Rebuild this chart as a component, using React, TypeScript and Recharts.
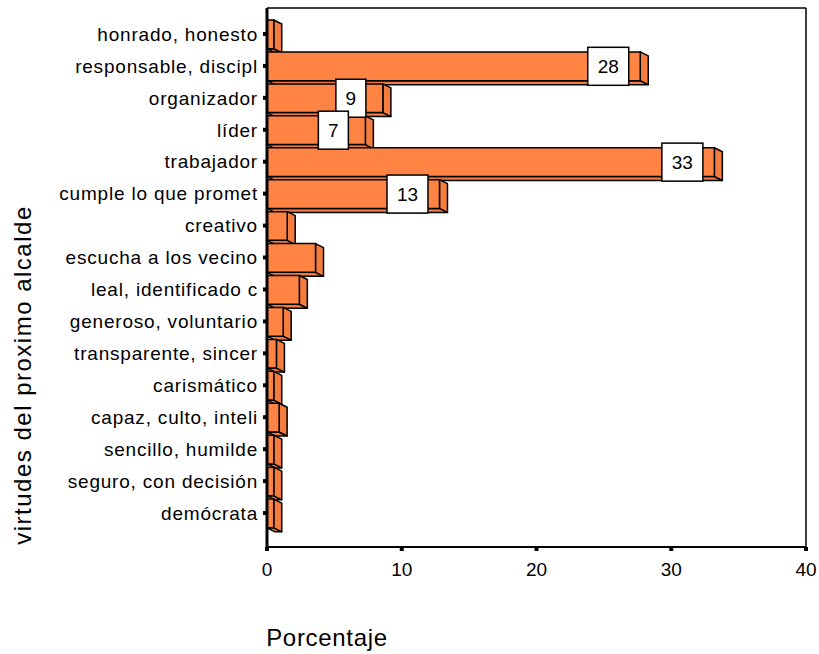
import { BarChart, Bar, XAxis, YAxis, LabelList, CartesianGrid } from "recharts";

const categories = [
  "honrado, honesto",
  "responsable, discipl",
  "organizador",
  "líder",
  "trabajador",
  "cumple lo que promet",
  "creativo",
  "escucha a los vecino",
  "leal, identificado c",
  "generoso, voluntario",
  "transparente, sincer",
  "carismático",
  "capaz, culto, inteli",
  "sencillo, humilde",
  "seguro, con decisión",
  "demócrata",
];

const percentages = [0.5, 27.7, 8.6, 7.3, 33.2, 12.8, 1.5, 3.6, 2.4, 1.2, 0.7, 0.5, 0.9, 0.5, 0.5, 0.5];

const xTicks = [0, 10, 20, 30, 40];

const data = categories.map((name, i) => ({ name, value: percentages[i] }));

const FONT = "'Liberation Sans', Arial, sans-serif";

// 3D-ish bar: front face + right side + bottom face
const Bar3D = (props: any) => {
  const x = Number(props.x);
  const y = Number(props.y);
  const w = Number(props.width);
  const h = Number(props.height);
  if (!w || !h) return null;
  const dx = 8;
  const dy = 4;
  return (
    <g stroke="#000" strokeWidth={1.5} strokeLinejoin="round">
      <polygon
        points={`${x},${y + h} ${x + w},${y + h} ${x + w + dx},${y + h + dy} ${x + dx},${y + h + dy}`}
        fill="#f07a3c"
      />
      <polygon
        points={`${x + w},${y} ${x + w + dx},${y + dy} ${x + w + dx},${y + h + dy} ${x + w},${y + h}`}
        fill="#f47c3e"
      />
      <rect x={x} y={y} width={w} height={h} fill="#ff8444" />
    </g>
  );
};

const ValueBox = (props: any) => {
  const x = Number(props.x);
  const y = Number(props.y);
  const width = Number(props.width);
  const height = Number(props.height);
  const value = Number(props.value);
  if (!(value >= 5)) return null;
  const txt = String(Math.round(value));
  const w = txt.length > 1 ? 41 : 30;
  const h = 38;
  const cx = x + width - 32;
  const cy = y + height / 2;
  return (
    <g>
      <rect x={cx - w / 2} y={cy - h / 2} width={w} height={h} fill="#fff" stroke="#000" strokeWidth={1.5} />
      <text x={cx} y={cy} textAnchor="middle" dominantBaseline="central" fontSize={19} fontFamily={FONT} fill="#000">
        {txt}
      </text>
    </g>
  );
};

export default function App() {
  return (
    <div style={{ position: "absolute", left: 0, top: 0, width: 819, height: 654, background: "#fff" }}>
      <BarChart
        width={819}
        height={654}
        data={data}
        layout="vertical"
        margin={{ top: 8, right: 13, bottom: 0, left: 0 }}
        barCategoryGap={0}
      >
        {/* plot frame (top and right edges) */}
        <CartesianGrid
          stroke="#000"
          strokeWidth={1.5}
          horizontalCoordinatesGenerator={({ offset }: any) => [offset.top]}
          verticalCoordinatesGenerator={({ offset }: any) => [offset.left + offset.width]}
        />
        <XAxis
          type="number"
          domain={[0, 40]}
          ticks={xTicks}
          height={107}
          axisLine={{ stroke: "#000", strokeWidth: 2 }}
          tickLine={{ stroke: "#000", strokeWidth: 4 }}
          tickSize={4}
          tickMargin={12}
          tick={{ fill: "#000", fontSize: 19, fontFamily: FONT }}
          label={{
            content: () => (
              <text
                x={327}
                y={637}
                textAnchor="middle"
                dominantBaseline="central"
                fontSize={24}
                letterSpacing={0.7}
                fontFamily={FONT}
                fill="#000"
              >
                Porcentaje
              </text>
            ),
          }}
        />
        <YAxis
          type="category"
          dataKey="name"
          width={267}
          padding={{ top: 10, bottom: 18 }}
          interval={0}
          axisLine={{ stroke: "#000", strokeWidth: 3 }}
          tickLine={{ stroke: "#000", strokeWidth: 4 }}
          tickSize={4}
          tickMargin={5}
          tick={{ fill: "#000", fontSize: 19, letterSpacing: 0.8, fontFamily: FONT }}
          label={{
            content: () => (
              <text
                x={22}
                y={375}
                transform="rotate(-90 22 375)"
                textAnchor="middle"
                dominantBaseline="central"
                fontSize={24}
                letterSpacing={1.5}
                fontFamily={FONT}
                fill="#000"
              >
                virtudes del proximo alcalde
              </text>
            ),
          }}
        />
        <Bar dataKey="value" barSize={32} shape={<Bar3D />} isAnimationActive={false}>
          <LabelList dataKey="value" content={<ValueBox />} />
        </Bar>
      </BarChart>
    </div>
  );
}
